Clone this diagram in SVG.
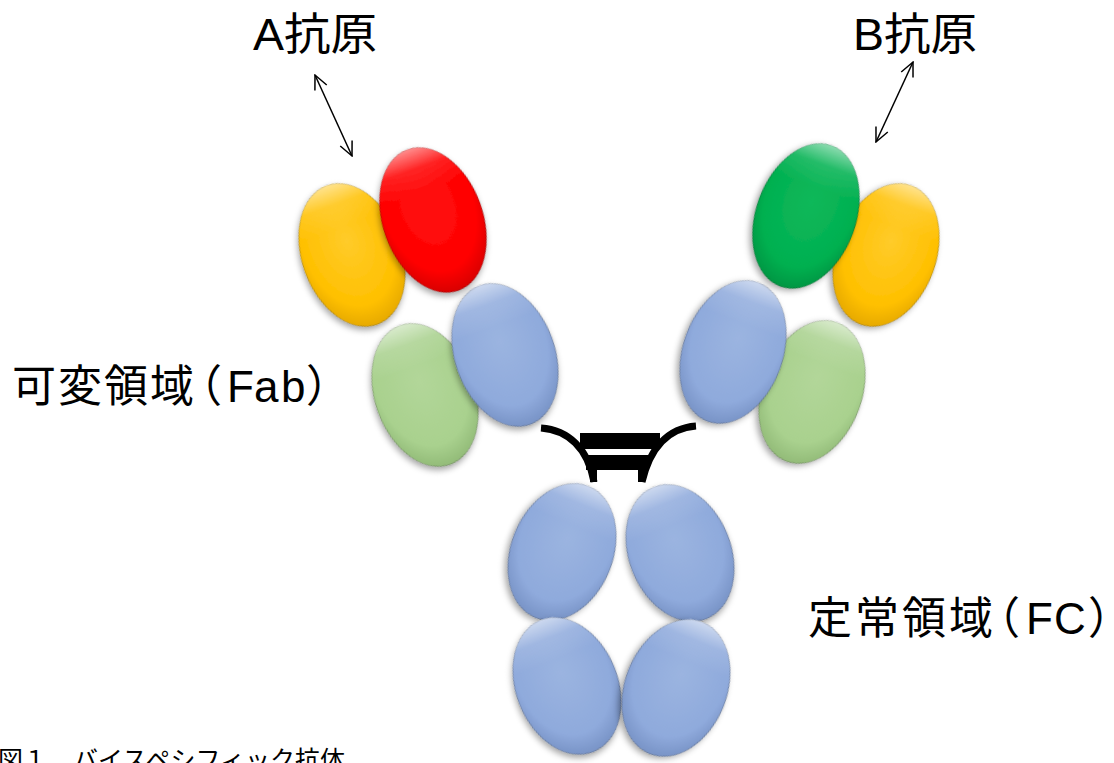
<svg xmlns="http://www.w3.org/2000/svg" width="1114" height="763" viewBox="0 0 1114 763">
  <defs>
    <filter id="shadow" x="-30%" y="-30%" width="160%" height="160%">
      <feDropShadow dx="-2" dy="3" stdDeviation="3" flood-color="#000" flood-opacity="0.35"/>
    </filter>
    <radialGradient id="gYellow" cx="50%" cy="40%" r="60%">
      <stop offset="0%" stop-color="#FFCB2A"/>
      <stop offset="75%" stop-color="#FFC000"/>
      <stop offset="100%" stop-color="#E6A900"/>
    </radialGradient>
    <radialGradient id="gRed" cx="50%" cy="40%" r="60%">
      <stop offset="0%" stop-color="#FF1010"/>
      <stop offset="75%" stop-color="#FF0000"/>
      <stop offset="100%" stop-color="#D80000"/>
    </radialGradient>
    <radialGradient id="gGreen" cx="50%" cy="40%" r="60%">
      <stop offset="0%" stop-color="#10B85A"/>
      <stop offset="75%" stop-color="#00B050"/>
      <stop offset="100%" stop-color="#009642"/>
    </radialGradient>
    <radialGradient id="gLight" cx="50%" cy="40%" r="60%">
      <stop offset="0%" stop-color="#B2D699"/>
      <stop offset="75%" stop-color="#A9D18E"/>
      <stop offset="100%" stop-color="#92BB78"/>
    </radialGradient>
    <radialGradient id="gBlue" cx="50%" cy="40%" r="60%">
      <stop offset="0%" stop-color="#9BB4E0"/>
      <stop offset="75%" stop-color="#8FAADC"/>
      <stop offset="100%" stop-color="#7893C6"/>
    </radialGradient>
    <linearGradient id="gShine" x1="0" y1="0" x2="0" y2="1">
      <stop offset="0%" stop-color="#fff" stop-opacity="0.55"/>
      <stop offset="14%" stop-color="#fff" stop-opacity="0.12"/>
      <stop offset="30%" stop-color="#fff" stop-opacity="0"/>
    </linearGradient>
    <marker id="arrow" viewBox="0 0 16 16" refX="15" refY="8" markerWidth="16" markerHeight="16" markerUnits="userSpaceOnUse" orient="auto-start-reverse">
      <path d="M1,1.5 L15,8 L1,14.5" fill="none" stroke="#000" stroke-width="1.5"/>
    </marker>
  </defs>
  <style>
    .dom { filter: url(#shadow); }
    .dom ellipse { stroke: #000; stroke-opacity: 0.22; stroke-width: 1; }
    .shine { fill: url(#gShine); stroke: none !important; }
    .label { font-family: "Liberation Sans", "Noto Sans CJK JP", sans-serif; font-size: 44px; fill: #000; }
    .caption { font-family: "Liberation Serif", "Noto Sans CJK JP", serif; font-size: 25px; fill: #000; }
    .link { fill: none; stroke: #000; stroke-width: 1.5; }
  </style>

  <rect width="1114" height="763" fill="#fff"/>

  <!-- left Fab arm -->
  <g id="left-light" class="dom" transform="translate(425,395) rotate(-20)">
    <ellipse rx="50" ry="74" fill="url(#gLight)"/>
    <ellipse class="shine" rx="50" ry="74"/>
  </g>
  <g id="left-heavy" class="dom" transform="translate(505,355) rotate(-20)">
    <ellipse rx="50" ry="74" fill="url(#gBlue)"/>
    <ellipse class="shine" rx="50" ry="74"/>
  </g>
  <g id="left-vl" class="dom" transform="translate(352,255) rotate(-20)">
    <ellipse rx="50" ry="74" fill="url(#gYellow)"/>
    <ellipse class="shine" rx="50" ry="74"/>
  </g>
  <g id="left-vh" class="dom" transform="translate(433,220) rotate(-20)">
    <ellipse rx="50" ry="75" fill="url(#gRed)"/>
    <ellipse class="shine" rx="50" ry="75"/>
  </g>

  <!-- right Fab arm -->
  <g id="right-light" class="dom" transform="translate(812,392) rotate(20)">
    <ellipse rx="50" ry="74" fill="url(#gLight)"/>
    <ellipse class="shine" rx="50" ry="74"/>
  </g>
  <g id="right-heavy" class="dom" transform="translate(733,352) rotate(20)">
    <ellipse rx="50" ry="74" fill="url(#gBlue)"/>
    <ellipse class="shine" rx="50" ry="74"/>
  </g>
  <g id="right-vl" class="dom" transform="translate(886,255) rotate(20)">
    <ellipse rx="50" ry="74" fill="url(#gYellow)"/>
    <ellipse class="shine" rx="50" ry="74"/>
  </g>
  <g id="right-vh" class="dom" transform="translate(806,216) rotate(20)">
    <ellipse rx="50" ry="75" fill="url(#gGreen)"/>
    <ellipse class="shine" rx="50" ry="75"/>
  </g>

  <!-- Fc stem -->
  <g id="fc-upper-left" class="dom" transform="translate(562,552) rotate(22)">
    <ellipse rx="51" ry="71" fill="url(#gBlue)"/>
    <ellipse class="shine" rx="51" ry="71"/>
  </g>
  <g id="fc-upper-right" class="dom" transform="translate(680,553) rotate(-22)">
    <ellipse rx="51" ry="71" fill="url(#gBlue)"/>
    <ellipse class="shine" rx="51" ry="71"/>
  </g>
  <g id="fc-lower-left" class="dom" transform="translate(567,686) rotate(-22)">
    <ellipse rx="51" ry="71" fill="url(#gBlue)"/>
    <ellipse class="shine" rx="51" ry="71"/>
  </g>
  <g id="fc-lower-right" class="dom" transform="translate(676,688) rotate(22)">
    <ellipse rx="51" ry="71" fill="url(#gBlue)"/>
    <ellipse class="shine" rx="51" ry="71"/>
  </g>

  <!-- hinge with disulfide bridges -->
  <g id="hinge" fill="#000">
    <path d="M541,428 C568,430 588,448 594,482" fill="none" stroke="#000" stroke-width="7"/>
    <path d="M696,426 C668,428 650,448 642,482" fill="none" stroke="#000" stroke-width="7"/>
    <rect x="580" y="433" width="80" height="16"/>
    <rect x="586" y="455" width="62" height="15"/>
    <rect x="590" y="466" width="7" height="16"/>
    <rect x="638" y="466" width="7" height="16"/>
  </g>

  <!-- antigen binding arrows -->
  <g id="connectors">
    <line class="link" x1="315" y1="75" x2="352" y2="156" marker-start="url(#arrow)" marker-end="url(#arrow)"/>
    <line class="link" x1="913" y1="62" x2="876" y2="142" marker-start="url(#arrow)" marker-end="url(#arrow)"/>
  </g>

  <!-- labels -->
  <g id="label-a"><text class="label" x="253" y="50" textLength="124" lengthAdjust="spacingAndGlyphs">A抗原</text></g>
  <g id="label-b"><text class="label" x="853" y="50" textLength="124" lengthAdjust="spacingAndGlyphs">B抗原</text></g>
  <g id="label-fab"><text class="label" x="12 58 104 150 178 227 254 281 306" y="402">可変領域（Fab）</text></g>
  <g id="label-fc"><text class="label" x="808 855 902 949 976 1026 1054 1088" y="634">定常領域（FC）</text></g>
  <g id="caption"><text class="caption" x="-2" y="769">図１　バイスペシフィック抗体</text></g>
</svg>
